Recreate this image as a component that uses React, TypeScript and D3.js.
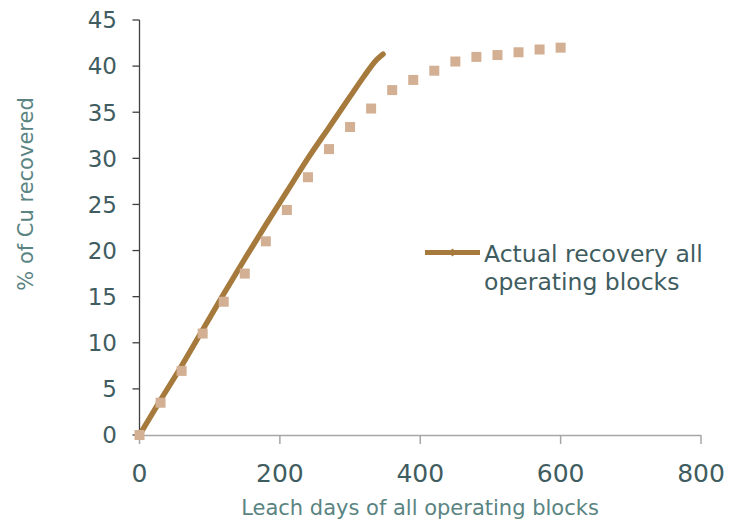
import React from "react";
import * as d3 from "d3";

const xTicks = [0, 200, 400, 600, 800];
const yTicks = [0, 5, 10, 15, 20, 25, 30, 35, 40, 45];

// Actual recovery (solid line)
const actualDays = [0, 30, 60, 90, 120, 150, 180, 210, 240, 270, 300, 320, 338, 347];
const actualValues = [0, 3.8, 7.5, 11.4, 15.3, 19.1, 22.8, 26.4, 30.0, 33.35, 36.7, 38.9, 40.7, 41.3];

// Projected recovery (square markers)
const projDays = [0, 30, 60, 90, 120, 150, 180, 210, 240, 270, 300, 330, 360, 390, 420, 450, 480, 510, 540, 570, 600];
const projValues = [0, 3.5, 6.95, 11, 14.45, 17.5, 21, 24.4, 27.95, 31, 33.4, 35.4, 37.4, 38.5, 39.5, 40.5, 41, 41.2, 41.5, 41.8, 42];

const legendLines = ["Actual recovery all", "operating blocks"];
const xTitle = "Leach days of all operating blocks";
const yTitle = "% of Cu recovered";

const FONT = "'DejaVu Sans', Verdana, sans-serif";
const LINE_COLOR = "#A67A3C";
const SQUARE_COLOR = "#D3B093";
const TEXT_COLOR = "#3F5D60";
const TITLE_COLOR = "#5A8482";

export default function App() {
  const W = 729;
  const H = 520;
  const x = d3.scaleLinear().domain([0, 800]).range([139.5, 701]);
  const y = d3.scaleLinear().domain([0, 45]).range([435, 20]);

  const pts = actualDays.map((d, i) => [d, actualValues[i]] as [number, number]);
  const line = d3
    .line<[number, number]>()
    .x((d) => x(d[0]))
    .y((d) => y(d[1]))
    .curve(d3.curveMonotoneX);

  const sq = 10;
  const legY = 252.5;

  return (
    <svg
      width={W}
      height={H}
      style={{ position: "absolute", left: 0, top: 0, background: "#fff" }}
      fontFamily={FONT}
    >
      {/* x axis */}
      <line x1={x(0)} x2={x(800)} y1={y(0) + 0.5} y2={y(0) + 0.5} stroke="#A6A6A6" strokeWidth={1.5} />
      {xTicks.map((t) => (
        <g key={"xt" + t}>
          <line x1={x(t)} x2={x(t)} y1={y(0)} y2={y(0) + 9} stroke="#A6A6A6" strokeWidth={1.5} />
          <text x={x(t)} y={481.5} textAnchor="middle" fontSize={25} fill={TEXT_COLOR}>
            {t}
          </text>
        </g>
      ))}
      {/* y axis */}
      <line x1={x(0)} x2={x(0)} y1={y(45)} y2={y(0)} stroke="#404040" strokeWidth={1.3} />
      {yTicks.map((t) => (
        <g key={"yt" + t}>
          <line x1={x(0) - 7} x2={x(0)} y1={y(t)} y2={y(t)} stroke="#404040" strokeWidth={1.3} />
          <text x={117} y={y(t)} dy="0.36em" textAnchor="end" fontSize={23} fill={TEXT_COLOR}>
            {t}
          </text>
        </g>
      ))}

      {/* actual line */}
      <path d={line(pts) || ""} fill="none" stroke={LINE_COLOR} strokeWidth={5.5} strokeLinecap="round" strokeLinejoin="round" />

      {/* projected squares */}
      {projDays.map((d, i) => (
        <rect
          key={"p" + i}
          x={x(d) - sq / 2}
          y={y(projValues[i]) - sq / 2}
          width={sq}
          height={sq}
          fill={SQUARE_COLOR}
        />
      ))}

      {/* legend */}
      <line x1={425} x2={480} y1={legY} y2={legY} stroke={LINE_COLOR} strokeWidth={5} />
      <path d={`M452.5,${legY - 4} L456.5,${legY} L452.5,${legY + 4} L448.5,${legY} Z`} fill={LINE_COLOR} />
      {legendLines.map((s, i) => (
        <text key={"l" + i} x={484} y={262 + i * 28} fontSize={23.5} fill={TEXT_COLOR}>
          {s}
        </text>
      ))}

      {/* axis titles */}
      <text x={420} y={515} textAnchor="middle" fontSize={21} fill={TITLE_COLOR}>
        {xTitle}
      </text>
      <text
        transform={`translate(33, 194) rotate(-90)`}
        textAnchor="middle"
        fontSize={21}
        fill={TITLE_COLOR}
      >
        {yTitle}
      </text>
    </svg>
  );
}
